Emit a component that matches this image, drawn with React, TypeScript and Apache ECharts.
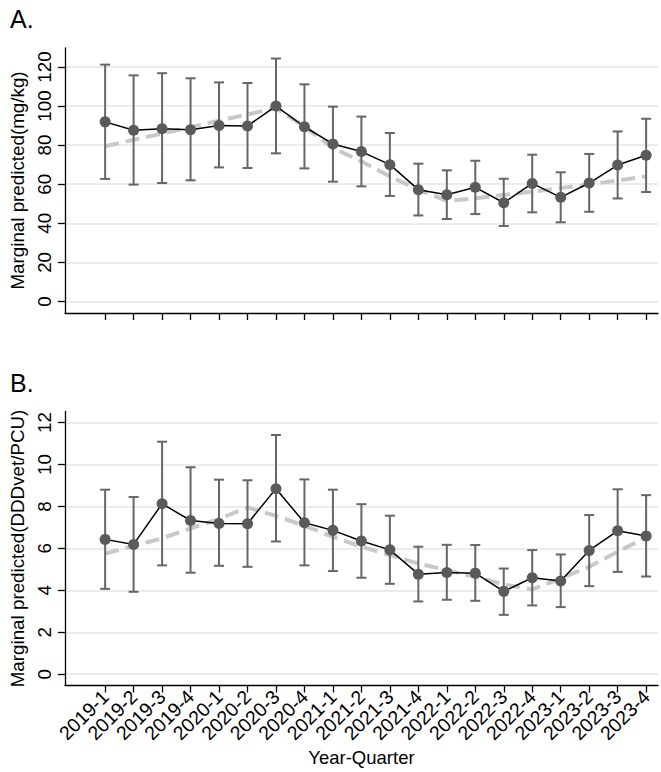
import React, { useEffect, useRef } from "react";
import * as echarts from "echarts";

const categories = [
  "2019-1", "2019-2", "2019-3", "2019-4",
  "2020-1", "2020-2", "2020-3", "2020-4",
  "2021-1", "2021-2", "2021-3", "2021-4",
  "2022-1", "2022-2", "2022-3", "2022-4",
  "2023-1", "2023-2", "2023-3", "2023-4",
];
const xPos = categories.map((_, i) => i + 1);

// Panel A: mg/kg
const mgEstimate = [91.9, 87.6, 88.4, 87.9, 90.0, 89.8, 100.0, 89.4, 80.6, 76.7, 70.0, 57.2, 54.6, 58.4, 50.5, 60.4, 53.3, 60.6, 69.8, 74.8];
const mgLower = [62.7, 59.8, 60.6, 62.0, 68.6, 68.3, 75.8, 68.1, 61.3, 58.9, 54.0, 44.0, 42.2, 44.7, 38.6, 45.6, 40.5, 45.9, 52.7, 56.0];
const mgUpper = [121.2, 115.7, 116.8, 114.2, 112.1, 111.8, 124.3, 111.1, 99.7, 94.6, 86.2, 70.5, 67.1, 72.0, 62.8, 75.1, 66.1, 75.5, 87.0, 93.5];
const mgTrend = [79.4, 82.7, 85.9, 89.2, 92.5, 95.7, 99.0, 89.5, 78.5, 71.7, 64.0, 57.2, 51.5, 52.8, 54.5, 56.2, 58.0, 59.9, 61.9, 64.0];

// Panel B: DDDvet/PCU
const dddEstimate = [6.43, 6.19, 8.13, 7.33, 7.19, 7.18, 8.85, 7.22, 6.86, 6.35, 5.93, 4.77, 4.85, 4.82, 3.95, 4.60, 4.45, 5.90, 6.84, 6.59];
const dddLower = [4.07, 3.93, 5.19, 4.84, 5.17, 5.12, 6.33, 5.19, 4.92, 4.60, 4.31, 3.47, 3.55, 3.50, 2.83, 3.28, 3.20, 4.20, 4.88, 4.66];
const dddUpper = [8.80, 8.45, 11.09, 9.87, 9.28, 9.25, 11.41, 9.29, 8.80, 8.11, 7.56, 6.08, 6.17, 6.16, 5.04, 5.92, 5.71, 7.59, 8.82, 8.54];
const dddTrend = [5.75, 6.11, 6.48, 6.95, 7.40, 7.95, 7.55, 7.08, 6.55, 6.08, 5.68, 5.28, 4.96, 4.65, 4.28, 4.04, 4.57, 5.12, 5.84, 6.52];

const mgTicks = [0, 20, 40, 60, 80, 100, 120];
const dddTicks = [0, 2, 4, 6, 8, 10, 12];

const FONT = "Liberation Sans, Arial, sans-serif";

function errorBarRender(params: any, api: any) {
  const x = api.value(0);
  const lo = api.coord([x, api.value(1)]);
  const hi = api.coord([x, api.value(2)]);
  const w = 5;
  const style = { stroke: "#666666", lineWidth: 2 };
  return {
    type: "group",
    children: [
      { type: "line", shape: { x1: lo[0], y1: lo[1], x2: hi[0], y2: hi[1] }, style },
      { type: "line", shape: { x1: lo[0] - w, y1: lo[1], x2: lo[0] + w, y2: lo[1] }, style },
      { type: "line", shape: { x1: hi[0] - w, y1: hi[1], x2: hi[0] + w, y2: hi[1] }, style },
    ],
  };
}

function xAxisCfg(gridIndex: number, showLabels: boolean) {
  return {
    type: "value",
    gridIndex,
    min: -0.413,
    max: 20.417,
    name: showLabels ? "Year-Quarter" : "",
    nameLocation: "middle",
    nameGap: 62,
    nameTextStyle: { color: "#000", fontSize: 18.5, fontFamily: FONT },
    axisLine: { show: true, onZero: false, lineStyle: { color: "#000", width: 1.3 } },
    axisTick: { show: true, length: 7, lineStyle: { color: "#000", width: 1.3 }, customValues: xPos },
    axisLabel: {
      show: showLabels,
      customValues: xPos,
      rotate: 45,
      margin: 8,
      color: "#000",
      fontSize: 19.5,
      fontFamily: FONT,
      formatter: (v: number) => categories[Math.round(v) - 1] ?? "",
    },
    splitLine: { show: false },
  };
}

function yAxisCfg(gridIndex: number, min: number, max: number, ticks: number[], name: string) {
  return {
    type: "value",
    gridIndex,
    min,
    max,
    name,
    nameLocation: "middle",
    nameRotate: 90,
    nameGap: 32,
    nameTextStyle: { color: "#000", fontSize: 18.8, fontFamily: FONT },
    axisLine: { show: true, onZero: false, lineStyle: { color: "#000", width: 1.3 } },
    axisTick: { show: true, length: 7, lineStyle: { color: "#000", width: 1.3 }, customValues: ticks },
    axisLabel: {
      customValues: ticks,
      rotate: 90,
      margin: 11,
      color: "#000",
      fontSize: 18.8,
      fontFamily: FONT,
    },
    splitLine: { show: true, lineStyle: { color: "#e6e6e6", width: 1.5 } },
  };
}

function panelSeries(idx: number, est: number[], lo: number[], hi: number[], trend: number[]) {
  return [
    {
      type: "line",
      xAxisIndex: idx,
      yAxisIndex: idx,
      data: xPos.map((x, i) => [x, trend[i]]),
      symbol: "none",
      lineStyle: { color: "#c8c8c8", width: 4, type: [14, 7] },
      z: 1,
    },
    {
      type: "custom",
      xAxisIndex: idx,
      yAxisIndex: idx,
      data: xPos.map((x, i) => [x, lo[i], hi[i]]),
      renderItem: errorBarRender,
      z: 2,
    },
    {
      type: "line",
      xAxisIndex: idx,
      yAxisIndex: idx,
      data: xPos.map((x, i) => [x, est[i]]),
      symbol: "circle",
      symbolSize: 11,
      itemStyle: { color: "#5a5a5a", borderWidth: 0 },
      lineStyle: { color: "#000", width: 1.5 },
      z: 3,
    },
  ];
}

export default function App() {
  const ref = useRef<HTMLDivElement>(null);
  useEffect(() => {
    if (!ref.current) return;
    const chart = echarts.init(ref.current, undefined, { renderer: "svg" });
    chart.setOption({
      animation: false,
      backgroundColor: "#fff",
      title: [
        { text: "A.", left: 5, top: 1, textStyle: { fontSize: 25, fontWeight: "normal", color: "#000", fontFamily: FONT } },
        { text: "B.", left: 5, top: 365, textStyle: { fontSize: 25, fontWeight: "normal", color: "#000", fontFamily: FONT } },
      ],
      grid: [
        { left: 58, top: 48, width: 600, height: 265 },
        { left: 58, top: 411.5, width: 600, height: 274 },
      ],
      xAxis: [xAxisCfg(0, false), xAxisCfg(1, true)],
      yAxis: [
        yAxisCfg(0, -5.9, 129.7, mgTicks, "Marginal predicted(mg/kg)"),
        yAxisCfg(1, -0.54, 12.53, dddTicks, "Marginal predicted(DDDvet/PCU)"),
      ],
      series: [
        ...panelSeries(0, mgEstimate, mgLower, mgUpper, mgTrend),
        ...panelSeries(1, dddEstimate, dddLower, dddUpper, dddTrend),
      ],
    });
    return () => chart.dispose();
  }, []);
  return (
    <div
      ref={ref}
      style={{ position: "fixed", left: 0, top: 0, width: 661, height: 772, background: "#fff" }}
    />
  );
}
